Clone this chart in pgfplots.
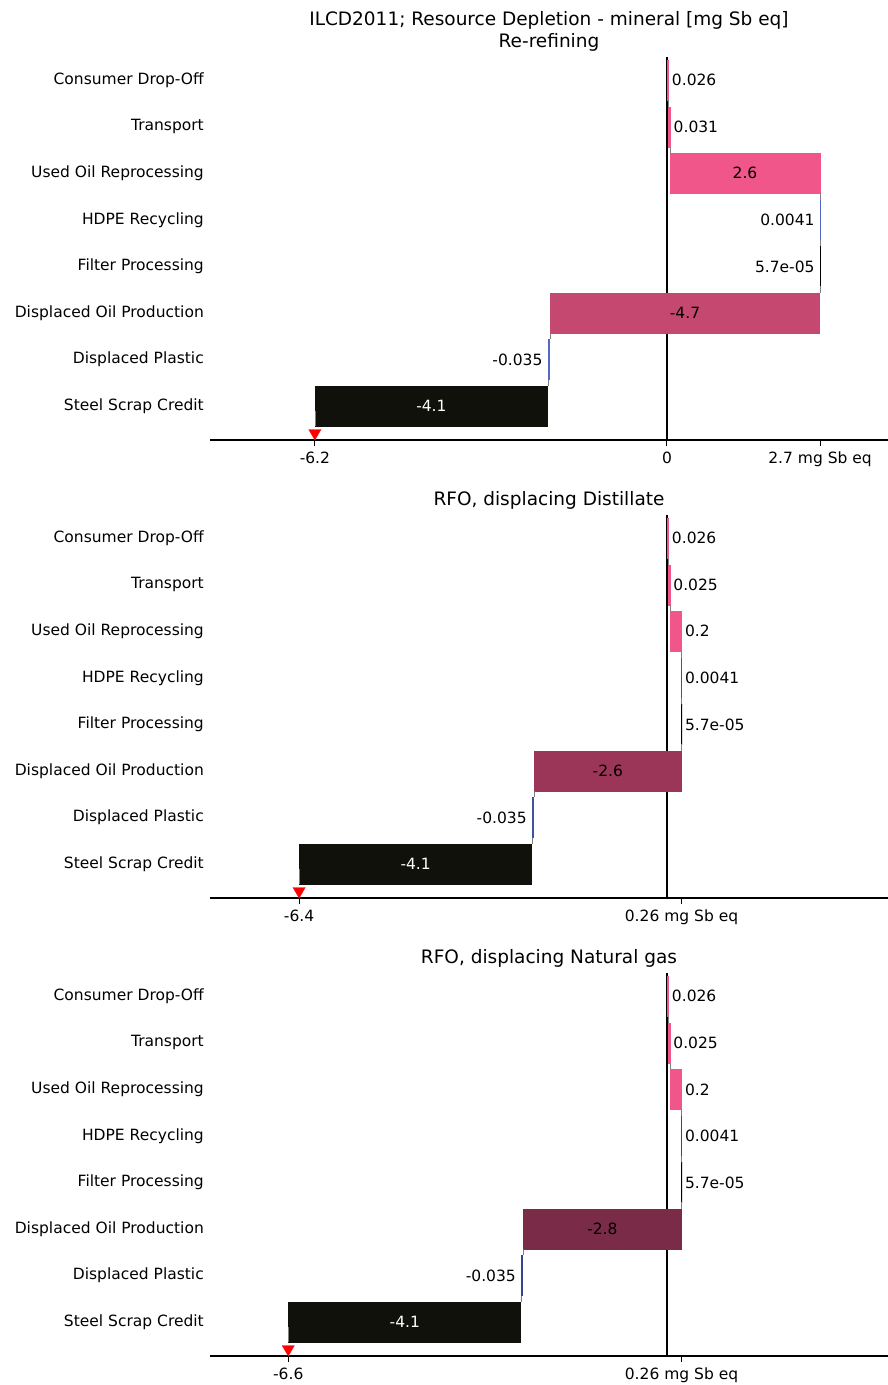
\documentclass[border=0pt]{standalone}
\usepackage{fontspec}
\setmainfont{DejaVu Sans}
\usepackage{pgfplots}
\pgfplotsset{compat=1.18}
\definecolor{pinkA}{HTML}{F0568A}
\definecolor{oilA}{HTML}{C44870}
\definecolor{oilB}{HTML}{9B3658}
\definecolor{oilC}{HTML}{7A2B47}
\definecolor{blueA}{HTML}{5468C8}
\definecolor{blueB}{HTML}{3F52A6}
\definecolor{blueC}{HTML}{34448A}
\definecolor{steel}{HTML}{11110C}
% waterfall bar: row, start, end, colour
\newcommand\wbar[4]{%
  \pgfmathsetmacro\ya{#1-0.43}\pgfmathsetmacro\yb{#1+0.43}%
  \edef\doit{\noexpand\addplot[fill=#4,draw=#4,line width=0.6pt] coordinates {(#2,\ya) (#3,\ya) (#3,\yb) (#2,\yb)};}\doit}
% connector: row, value, end-row fraction
\newcommand\conn[3]{%
  \pgfmathsetmacro\ya{#1+0.43}\pgfmathsetmacro\yb{#1+#3}%
  \edef\doit{\noexpand\addplot[gray,line width=0.5pt] coordinates {(#2,\ya) (#2,\yb)};}\doit}
\newcommand\lf{\fontsize{15.5}{18}\selectfont}
\pgfplotsset{wf/.style={scale only axis, width=678pt, height=383pt,
  xmin=-8, xmax=3.87, ymin=-0.5, ymax=7.73, y dir=reverse, clip=false,
  axis x line*=bottom, axis y line*=left,
  y axis line style={draw=none}, ytick style={draw=none},
  x axis line style={line width=2.8pt,-},
  xtick style={line width=1pt, black}, major tick length=6pt, tick align=outside,
  ytick={0,...,7},
  yticklabels={Consumer Drop-Off, Transport, Used Oil Reprocessing, HDPE Recycling, Filter Processing, Displaced Oil Production, Displaced Plastic, Steel Scrap Credit},
  yticklabel style={inner sep=0pt, xshift=0pt},
  xticklabel style={yshift=-2pt},
  tick label style={font=\lf},
  title style={font=\fontsize{18.5}{22}\selectfont, align=center, yshift=-4pt},
  /pgf/number format/assume math mode=true,
}}
\begin{document}
\begin{tikzpicture}[font=\lf]
\useasboundingbox (0pt,0pt) rectangle (888pt,-1385pt);
% ---------------- top ----------------
\begin{axis}[wf, at={(210pt,-57pt)}, anchor=north west,
  title={ILCD2011; Resource Depletion - mineral [mg Sb eq]\\Re-refining},
  xtick={-6.1638,0,2.6812}, xticklabels={-6.2,0,2.7 mg Sb eq}]
\addplot[black,line width=2.8pt] coordinates {(0,-0.5) (0,7.73)};
\wbar{0}{0}{0.026}{pinkA}
\wbar{1}{0.026}{0.057}{pinkA}
\wbar{2}{0.057}{2.677}{pinkA}
\wbar{3}{2.677}{2.6811}{blueA}
\wbar{4}{2.6811}{2.6812}{black}
\wbar{5}{2.6812}{-2.0488}{oilA}
\wbar{6}{-2.0488}{-2.0838}{blueA}
\wbar{7}{-2.0838}{-6.1638}{steel}
\conn{0}{0.026}{0.57}\conn{1}{0.057}{0.57}\conn{2}{2.677}{0.57}
\conn{3}{2.6811}{0.57}\conn{4}{2.6812}{0.57}\conn{5}{-2.0488}{0.57}
\conn{6}{-2.0838}{0.57}\conn{7}{-6.1638}{0.1}
\addplot[only marks, mark=triangle*, mark size=7pt, mark options={rotate=180, fill=red, draw=red}] coordinates {(-6.1638,7.58)};
\node[font=\lf,anchor=west] at (axis cs:0.026,0) {0.026};
\node[font=\lf,anchor=west] at (axis cs:0.057,1) {0.031};
\node[font=\lf] at (axis cs:1.367,2) {2.6};
\node[font=\lf,anchor=east,xshift=-2pt] at (axis cs:2.6811,3) {0.0041};
\node[font=\lf,anchor=east,xshift=-2pt] at (axis cs:2.6812,4) {5.7e-05};
\node[font=\lf] at (axis cs:0.316,5) {-4.7};
\node[font=\lf,anchor=east,xshift=-2pt] at (axis cs:-2.0838,6) {-0.035};
\node[font=\lf,white] at (axis cs:-4.1238,7) {-4.1};
\end{axis}
% ---------------- middle ----------------
\begin{axis}[wf, at={(210pt,-515pt)}, anchor=north west,
  title={RFO, displacing Distillate},
  xtick={-6.4398,0.2552}, xticklabels={-6.4,0.26 mg Sb eq}]
\addplot[black,line width=2.8pt] coordinates {(0,-0.5) (0,7.73)};
\wbar{0}{0}{0.026}{pinkA}
\wbar{1}{0.026}{0.051}{pinkA}
\wbar{2}{0.051}{0.2551}{pinkA}
\wbar{3}{0.2511}{0.2552}{blueB}
\wbar{4}{0.2552}{0.2553}{black}
\wbar{5}{0.2552}{-2.3248}{oilB}
\wbar{6}{-2.3248}{-2.3598}{blueB}
\wbar{7}{-2.3598}{-6.4398}{steel}
\conn{0}{0.026}{0.57}\conn{1}{0.051}{0.57}\conn{2}{0.2551}{0.57}
\conn{3}{0.2552}{0.57}\conn{4}{0.2552}{0.57}\conn{5}{-2.3248}{0.57}
\conn{6}{-2.3598}{0.57}\conn{7}{-6.4398}{0.1}
\addplot[only marks, mark=triangle*, mark size=7pt, mark options={rotate=180, fill=red, draw=red}] coordinates {(-6.4398,7.58)};
\node[font=\lf,anchor=west] at (axis cs:0.026,0) {0.026};
\node[font=\lf,anchor=west] at (axis cs:0.051,1) {0.025};
\node[font=\lf,anchor=west] at (axis cs:0.2551,2) {0.2};
\node[font=\lf,anchor=west] at (axis cs:0.2552,3) {0.0041};
\node[font=\lf,anchor=west] at (axis cs:0.2552,4) {5.7e-05};
\node[font=\lf] at (axis cs:-1.0348,5) {-2.6};
\node[font=\lf,anchor=east,xshift=-2pt] at (axis cs:-2.3598,6) {-0.035};
\node[font=\lf,white] at (axis cs:-4.3998,7) {-4.1};
\end{axis}
% ---------------- bottom ----------------
\begin{axis}[wf, at={(210pt,-973pt)}, anchor=north west,
  title={RFO, displacing Natural gas},
  xtick={-6.6298,0.2552}, xticklabels={-6.6,0.26 mg Sb eq}]
\addplot[black,line width=2.8pt] coordinates {(0,-0.5) (0,7.73)};
\wbar{0}{0}{0.026}{pinkA}
\wbar{1}{0.026}{0.051}{pinkA}
\wbar{2}{0.051}{0.2551}{pinkA}
\wbar{3}{0.2511}{0.2552}{blueC}
\wbar{4}{0.2552}{0.2553}{black}
\wbar{5}{0.2552}{-2.5148}{oilC}
\wbar{6}{-2.5148}{-2.5498}{blueC}
\wbar{7}{-2.5498}{-6.6298}{steel}
\conn{0}{0.026}{0.57}\conn{1}{0.051}{0.57}\conn{2}{0.2551}{0.57}
\conn{3}{0.2552}{0.57}\conn{4}{0.2552}{0.57}\conn{5}{-2.5148}{0.57}
\conn{6}{-2.5498}{0.57}\conn{7}{-6.6298}{0.1}
\addplot[only marks, mark=triangle*, mark size=7pt, mark options={rotate=180, fill=red, draw=red}] coordinates {(-6.6298,7.58)};
\node[font=\lf,anchor=west] at (axis cs:0.026,0) {0.026};
\node[font=\lf,anchor=west] at (axis cs:0.051,1) {0.025};
\node[font=\lf,anchor=west] at (axis cs:0.2551,2) {0.2};
\node[font=\lf,anchor=west] at (axis cs:0.2552,3) {0.0041};
\node[font=\lf,anchor=west] at (axis cs:0.2552,4) {5.7e-05};
\node[font=\lf] at (axis cs:-1.1298,5) {-2.8};
\node[font=\lf,anchor=east,xshift=-2pt] at (axis cs:-2.5498,6) {-0.035};
\node[font=\lf,white] at (axis cs:-4.5898,7) {-4.1};
\end{axis}
\end{tikzpicture}
\end{document}
